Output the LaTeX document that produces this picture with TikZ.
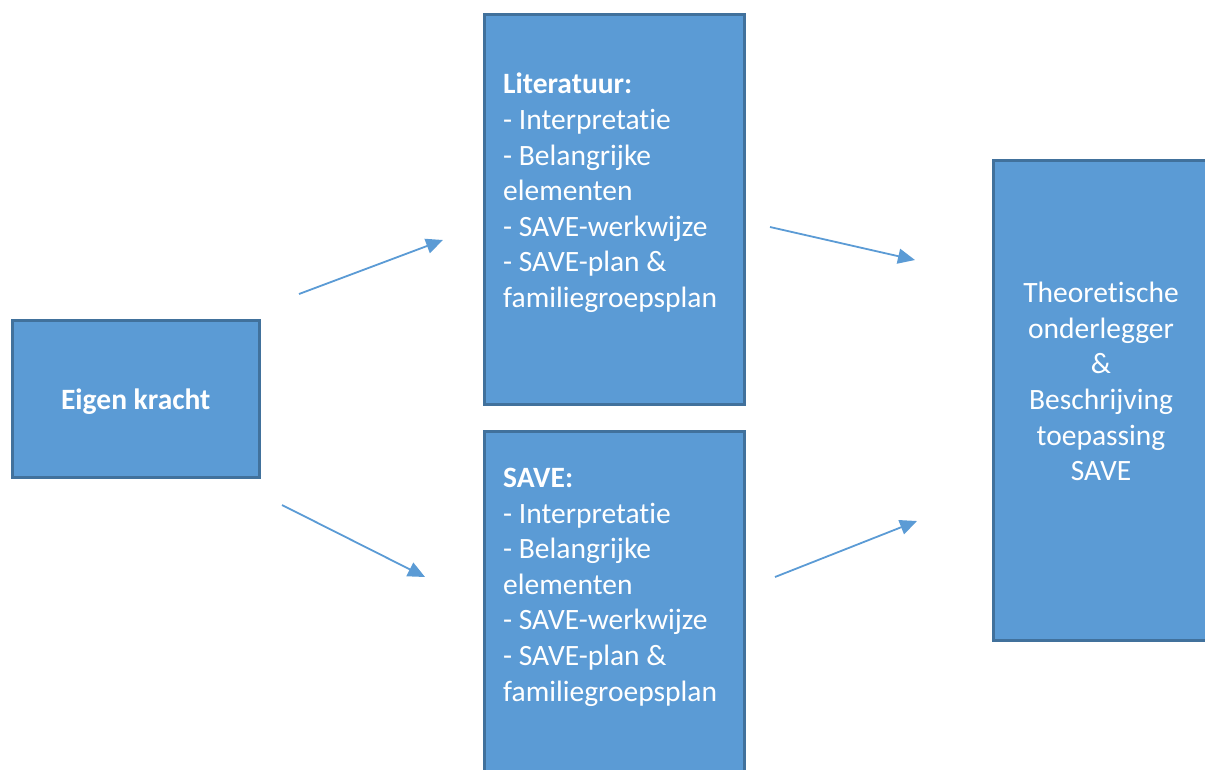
\documentclass[tikz,border=0pt]{standalone}
\usepackage{fontspec}
\setmainfont[Ligatures=NoCommon]{Carlito}
\usepackage{xcolor}
\definecolor{boxblue}{HTML}{5B9BD5}
\definecolor{boxedge}{HTML}{41719C}
\usetikzlibrary{arrows.meta}
\tikzset{>={Triangle[length=17pt,width=15pt]}}
\tikzset{%
    block/.style={rectangle, draw=boxedge, line width=2.5pt, fill=boxblue, inner sep=0pt, anchor=north west},
    blocktext/.style={text=white, inner sep=0pt, font=\fontsize{29.5}{35.6}\selectfont},
    flow/.style={->, line width=1.8pt, draw=boxblue}
}

\begin{document}
\begin{tikzpicture}[x=1pt,y=-1pt]
\useasboundingbox (0,0) rectangle (1205,769);
\clip (0,0) rectangle (1205,769);

\node[block, minimum width=247pt, minimum height=157pt, blocktext, font=\fontsize{29.5}{35.6}\selectfont\bfseries, text depth=0pt] (eigen) at (11,319) {Eigen kracht};
\node[block, minimum width=260pt, minimum height=390pt] (lit) at (483,13) {};
\node[block, minimum width=260pt, minimum height=380pt] (save) at (483,430) {};
\node[block, minimum width=240pt, minimum height=480pt] (theorie) at (992,159) {};

\node[blocktext, align=left, anchor=north west] (littext) at (503,73) {\textbf{Literatuur:}\\- Interpretatie\\- Belangrijke\\elementen\\- SAVE-werkwijze\\- SAVE-plan \&\\familiegroepsplan};
\node[blocktext, align=left, anchor=north west] (savetext) at (503,468) {\textbf{SAVE:}\\- Interpretatie\\- Belangrijke\\elementen\\- SAVE-werkwijze\\- SAVE-plan \&\\familiegroepsplan};
\node[blocktext, align=center, anchor=north] (theorietext) at (1101,282) {Theoretische\\onderlegger\\\&\\Beschrijving\\toepassing\\SAVE};

\coordinate (a1s) at (299,294);
\coordinate (a1e) at (443,240);
\coordinate (a2s) at (770,227);
\coordinate (a2e) at (915,260);
\coordinate (a3s) at (282,505);
\coordinate (a3e) at (425,577);
\coordinate (a4s) at (775,577);
\coordinate (a4e) at (917,521);

\draw[flow] (a1s) -- (a1e);
\draw[flow] (a2s) -- (a2e);
\draw[flow] (a3s) -- (a3e);
\draw[flow] (a4s) -- (a4e);
\end{tikzpicture}
\end{document}
